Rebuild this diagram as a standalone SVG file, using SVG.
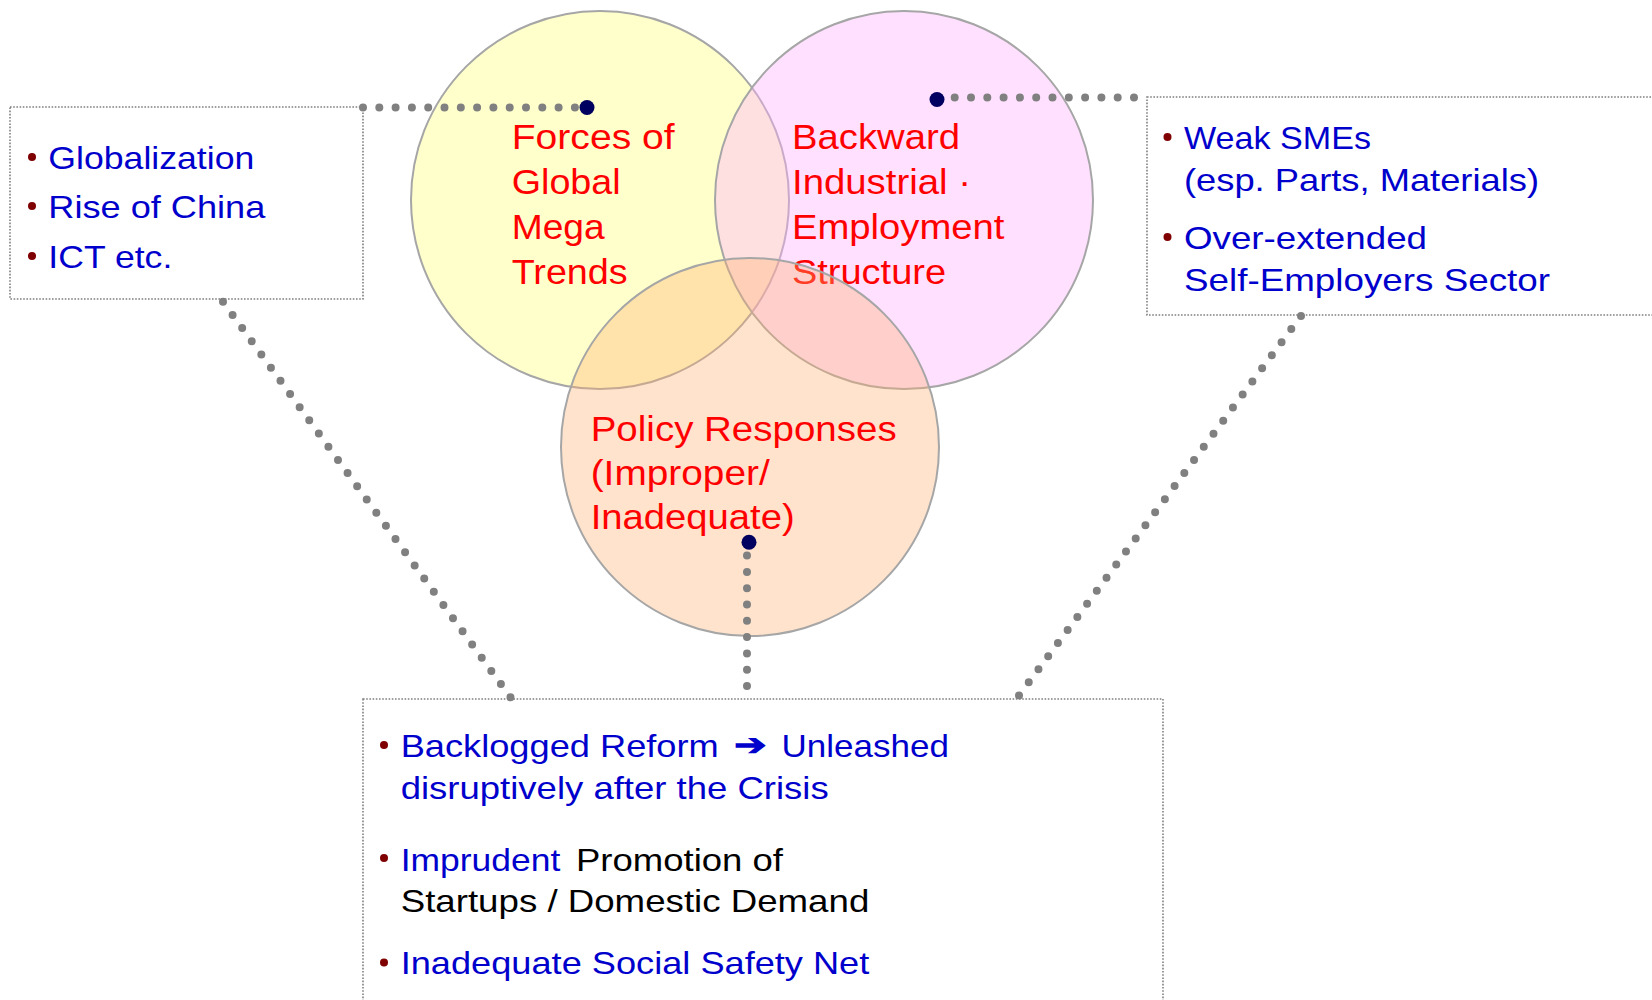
<svg xmlns="http://www.w3.org/2000/svg" width="1652" height="1000" viewBox="0 0 1652 1000">
  <style>
    .box { fill: #ffffff; stroke: #7f7f7f; stroke-width: 1.6; stroke-dasharray: 1.6 1.6; }
    .ring { stroke: #a6a6a6; stroke-width: 2; }
    .dots { fill: none; stroke: #808080; stroke-width: 8; stroke-linecap: round; stroke-dasharray: 0 16.3; }
    .hub { fill: #000060; }
    .bul { fill: #7f0000; }
    text { font-family: "Liberation Sans", Arial, sans-serif; }
    .title { fill: #ff0000; font-size: 35px; }
    .item { fill: #0000cc; font-size: 32px; }
    .plain { fill: #000000; }
  </style>

  <rect width="1652" height="1000" fill="#ffffff"/>

  <!-- Left box: external trends -->
  <g id="box-trends">
    <rect class="box" x="10" y="107" width="353" height="192"/>
    <circle class="bul" cx="32" cy="157" r="4"/>
    <circle class="bul" cx="32" cy="206" r="4"/>
    <circle class="bul" cx="32" cy="256" r="4"/>
    <text class="item" x="48.3" y="169" textLength="206" lengthAdjust="spacingAndGlyphs" font-size="33">Globalization</text>
    <text class="item" x="48.3" y="218.3" textLength="217" lengthAdjust="spacingAndGlyphs" font-size="33">Rise of China</text>
    <text class="item" x="48.3" y="267.7" textLength="124" lengthAdjust="spacingAndGlyphs" font-size="33">ICT etc.</text>
  </g>

  <!-- Right box: structural weaknesses -->
  <g id="box-structure">
    <rect class="box" x="1147" y="97" width="520" height="218"/>
    <circle class="bul" cx="1167.5" cy="137" r="4"/>
    <circle class="bul" cx="1167.5" cy="237" r="4"/>
    <text class="item" x="1184" y="149" textLength="187" lengthAdjust="spacingAndGlyphs" font-size="31">Weak SMEs</text>
    <text class="item" x="1184" y="191" textLength="355" lengthAdjust="spacingAndGlyphs" font-size="31">(esp. Parts, Materials)</text>
    <text class="item" x="1184" y="249" textLength="243" lengthAdjust="spacingAndGlyphs" font-size="31">Over-extended</text>
    <text class="item" x="1184" y="290.7" textLength="366" lengthAdjust="spacingAndGlyphs" font-size="31">Self-Employers Sector</text>
  </g>

  <!-- Bottom box: policy shortcomings -->
  <g id="box-policy">
    <rect class="box" x="363" y="699" width="800" height="340"/>
    <circle class="bul" cx="384" cy="745" r="4"/>
    <circle class="bul" cx="384" cy="858" r="4"/>
    <circle class="bul" cx="384" cy="962.5" r="4"/>
    <text class="item" x="400.7" y="756.7" textLength="318" lengthAdjust="spacingAndGlyphs">Backlogged Reform</text>
    <text x="734.4" y="755" fill="#0000cc" font-family="DejaVu Sans, sans-serif" font-weight="bold" font-size="30" textLength="32.4" lengthAdjust="spacingAndGlyphs">➔</text>
    <text class="item" x="781.5" y="756.7" textLength="167.4" lengthAdjust="spacingAndGlyphs">Unleashed</text>
    <text class="item" x="400.7" y="799" textLength="428" lengthAdjust="spacingAndGlyphs">disruptively after the Crisis</text>
    <text class="item" x="400.7" y="870.7" textLength="159.6" lengthAdjust="spacingAndGlyphs">Imprudent</text>
    <text class="item plain" x="576" y="870.7" textLength="207" lengthAdjust="spacingAndGlyphs">Promotion of</text>
    <text class="item plain" x="400.7" y="912.3" textLength="468.6" lengthAdjust="spacingAndGlyphs">Startups / Domestic Demand</text>
    <text class="item" x="400.7" y="974.3" textLength="468.6" lengthAdjust="spacingAndGlyphs">Inadequate Social Safety Net</text>
  </g>

  <!-- Venn circles -->
  <g id="circle-global">
    <circle class="ring" cx="600" cy="200" r="189" fill="#ffffcc"/>
    <text class="title" x="511.7" y="149" textLength="163" lengthAdjust="spacingAndGlyphs">Forces of</text>
    <text class="title" x="511.7" y="194" textLength="109" lengthAdjust="spacingAndGlyphs">Global</text>
    <text class="title" x="511.7" y="239" textLength="93" lengthAdjust="spacingAndGlyphs">Mega</text>
    <text class="title" x="511.7" y="283.7" textLength="116" lengthAdjust="spacingAndGlyphs">Trends</text>
  </g>

  <g id="circle-industrial">
    <circle class="ring" cx="904" cy="200" r="189" fill="rgb(255,178,255)" fill-opacity="0.4"/>
    <text class="title" x="792" y="149" textLength="168" lengthAdjust="spacingAndGlyphs">Backward</text>
    <text class="title" x="792" y="194" textLength="179" lengthAdjust="spacingAndGlyphs">Industrial ·</text>
    <text class="title" x="792" y="239" textLength="212.5" lengthAdjust="spacingAndGlyphs">Employment</text>
    <text class="title" x="792" y="283.7" textLength="154" lengthAdjust="spacingAndGlyphs">Structure</text>
  </g>

  <g id="circle-policy">
    <circle class="ring" cx="750" cy="447" r="189" fill="rgb(255,176,108)" fill-opacity="0.35"/>
    <text class="title" x="590.7" y="440.7" textLength="306" lengthAdjust="spacingAndGlyphs" font-size="36">Policy Responses</text>
    <text class="title" x="590.7" y="485" textLength="179" lengthAdjust="spacingAndGlyphs" font-size="36">(Improper/</text>
    <text class="title" x="590.7" y="529" textLength="204" lengthAdjust="spacingAndGlyphs" font-size="36">Inadequate)</text>
  </g>

  <!-- Dotted callout connectors -->
  <g id="connectors">
    <path class="dots" d="M363,107.5 L587,107.5"/>
    <path class="dots" d="M1134,97.5 L937,97.5"/>
    <path class="dots" d="M747,686 L747,542"/>
    <path class="dots" d="M223,301.7 L511,698"/>
    <path class="dots" d="M1301,316 L1016.7,698.5"/>
    <circle class="hub" cx="587" cy="107.5" r="7.5"/>
    <circle class="hub" cx="937" cy="99.5" r="7.5"/>
    <circle class="hub" cx="749" cy="542.3" r="7.5"/>
  </g>
</svg>
